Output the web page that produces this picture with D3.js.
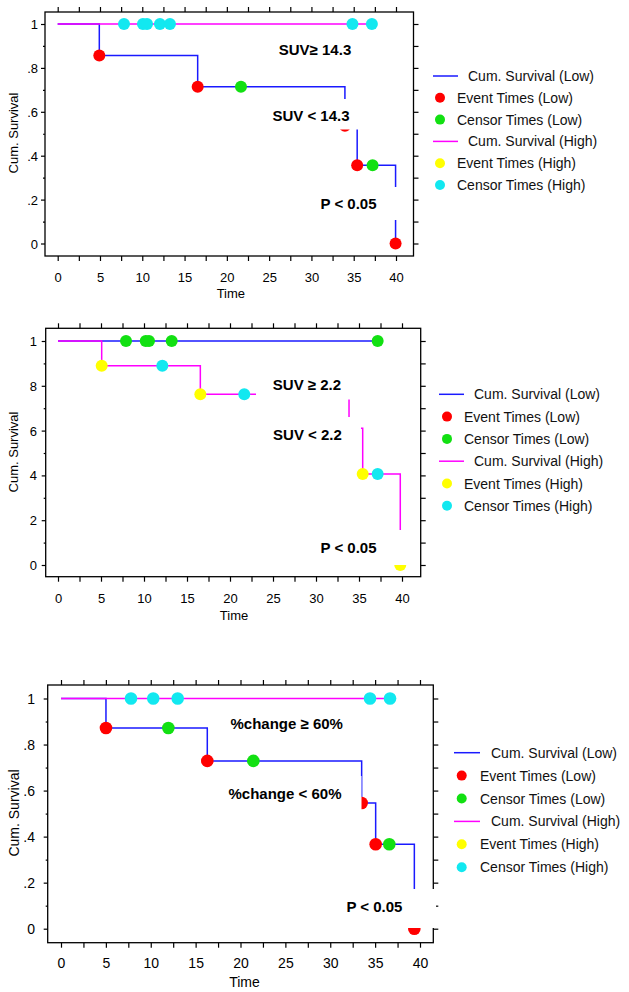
<!DOCTYPE html>
<html>
<head>
<meta charset="utf-8">
<script src="https://cdn.jsdelivr.net/npm/d3@7"></script>
<style>
  html, body { margin: 0; padding: 0; background: #fff; }
  svg { display: block; font-family: "Liberation Sans", Arial, sans-serif; }
</style>
</head>
<body>
<svg id="chart" width="629" height="992"></svg>
<script>
// ---------- data ----------
const timeTicks = [0, 5, 10, 15, 20, 25, 30, 35, 40];
const timeMinorTicks = [0, 2.5, 5, 7.5, 10, 12.5, 15, 17.5, 20, 22.5, 25, 27.5, 30, 32.5, 35, 37.5, 40];
const survTicks = [0, 0.2, 0.4, 0.6, 0.8, 1];
const survMinorTicks = [0, 0.1, 0.2, 0.3, 0.4, 0.5, 0.6, 0.7, 0.8, 0.9, 1];
const survTickLabelsDot = ["0", ".2", ".4", ".6", ".8", "1"];
const survTickLabelsNoDot = ["0", "2", "4", "6", "8", "1"];
const legendLabels = ["Cum. Survival (Low)", "Event Times (Low)", "Censor Times (Low)",
                      "Cum. Survival (High)", "Event Times (High)", "Censor Times (High)"];

// Panel 1: SUV 14.3
const p1LowCurve = [[0, 1], [4.92, 0.857], [16.55, 0.714], [33.96, 0.536], [35.41, 0.357], [39.95, 0]];
const p1LowEvents = [[4.92, 0.857], [16.55, 0.714], [33.96, 0.536], [35.41, 0.357], [39.95, 0]];
const p1LowCensors = [[21.67, 0.714], [37.23, 0.357]];
const p1HighCurve = [[0, 1], [37.15, 1]];
const p1HighEvents = [];
const p1HighCensors = [[7.84, 1], [10.08, 1], [10.56, 1], [12.09, 1], [13.27, 1], [34.85, 1], [37.15, 1]];
const p1Notes = ["SUV\u2265 14.3", "SUV < 14.3", "P < 0.05"];

// Panel 2: SUV 2.2
const p2LowCurve = [[0, 1], [37.17, 1]];
const p2LowEvents = [];
const p2LowCensors = [[7.91, 1], [10.2, 1], [10.58, 1], [13.22, 1], [37.17, 1]];
const p2HighCurve = [[0, 1], [5.08, 0.889], [16.55, 0.762], [33.84, 0.610], [35.43, 0.406], [39.8, 0]];
const p2HighEvents = [[5.08, 0.889], [16.55, 0.762], [33.84, 0.610], [35.43, 0.406], [39.8, 0]];
const p2HighCensors = [[12.13, 0.889], [21.66, 0.762], [37.17, 0.406]];
const p2Notes = ["SUV \u2265 2.2", "SUV < 2.2", "P < 0.05"];

// Panel 3: %change 60%
const p3LowCurve = [[0, 1], [5.01, 0.872], [16.3, 0.729], [33.5, 0.546], [35.06, 0.367], [39.37, 0]];
const p3LowEvents = [[5.01, 0.872], [16.3, 0.729], [33.5, 0.546], [35.06, 0.367], [39.37, 0]];
const p3LowCensors = [[11.96, 0.872], [21.43, 0.729], [36.58, 0.367]];
const p3HighCurve = [[0, 1], [36.66, 1]];
const p3HighEvents = [];
const p3HighCensors = [[7.8, 1], [10.28, 1], [13.0, 1], [34.43, 1], [36.66, 1]];
const p3Notes = ["%change \u2265 60%", "%change < 60%", "P < 0.05"];

// ---------- styles ----------
const COL = { lowLine: "#1a1aff", highLine: "#ff00ff", lowEvent: "#ff0000", lowCensor: "#12e012",
              highEvent: "#ffff00", highCensor: "#12e8f0" };

// ---------- layout (pixel geometry per panel) ----------
const panels = [
  { low: [p1LowCurve, p1LowEvents, p1LowCensors], high: [p1HighCurve, p1HighEvents, p1HighCensors],
    frame: { l: 45, r: 413.5, t: 12, b: 256 }, xr: [57.7, 396], yr: [243.5, 24],
    yLabels: survTickLabelsDot, yLabelRight: 38, yTitle: [13, 133], xLabelY: 277, timeY: 293, fs: 13, r: 6,
    legend: { y0: 76, dy: 21.8, lx0: 433, lx1: 458, ltx: 468, mx: 440, mtx: 457 },
    notes: [
      { t: p1Notes[0], cx: 315, cy: 49, box: null },
      { t: p1Notes[1], cx: 311, cy: 115, box: [266, 99, 358, 129.5] },
      { t: p1Notes[2], cx: 348.5, cy: 203, box: [318, 187, 400, 220] } ] },
  { low: [p2LowCurve, p2LowEvents, p2LowCensors], high: [p2HighCurve, p2HighEvents, p2HighCensors],
    frame: { l: 45.7, r: 420.7, t: 328.3, b: 576.7 }, xr: [58, 402], yr: [565, 341],
    yLabels: survTickLabelsNoDot, yLabelRight: 37, yTitle: [13, 452], xLabelY: 598.5, timeY: 615, fs: 13, r: 6,
    legend: { y0: 394.3, dy: 22.3, lx0: 439, lx1: 464, ltx: 474, mx: 447, mtx: 464 },
    notes: [
      { t: p2Notes[0], cx: 307, cy: 384, box: [256, 370, 355, 399.5] },
      { t: p2Notes[1], cx: 307.5, cy: 434, box: [268, 417, 361, 450] },
      { t: p2Notes[2], cx: 348.5, cy: 547.7, box: [318, 530, 407, 565] } ] },
  { low: [p3LowCurve, p3LowEvents, p3LowCensors], high: [p3HighCurve, p3HighEvents, p3HighCensors],
    frame: { l: 47.7, r: 433.3, t: 685, b: 942.7 }, xr: [61, 420], yr: [928.7, 698.5],
    yLabels: survTickLabelsDot, yLabelRight: 35, yTitle: [13.5, 813], xLabelY: 963.3, timeY: 981.5, fs: 14, r: 6.3,
    legend: { y0: 752.7, dy: 22.9, lx0: 454, lx1: 480, ltx: 491, mx: 461.7, mtx: 480 },
    notes: [
      { t: p3Notes[0], cx: 286.7, cy: 723.3, box: null },
      { t: p3Notes[1], cx: 285, cy: 793.3, box: [225, 776, 361.5, 812] },
      { t: p3Notes[2], cx: 374.4, cy: 906.7, box: [340, 889, 436, 928] } ] }
];

const svg = d3.select("#chart");

panels.forEach(P => {
  const g = svg.append("g");
  const x = d3.scaleLinear().domain([0, 40]).range(P.xr);
  const y = d3.scaleLinear().domain([0, 1]).range(P.yr);
  const F = P.frame;

  // frame
  g.append("rect").attr("x", F.l).attr("y", F.t).attr("width", F.r - F.l).attr("height", F.b - F.t)
    .attr("fill", "none").attr("stroke", "#000").attr("stroke-width", 1.3);

  const styleAxis = sel => { sel.select(".domain").remove(); sel.selectAll("line").attr("stroke", "#000").attr("stroke-width", 1.2); };

  // bottom axis
  const bottom = g.append("g").attr("transform", `translate(0,${F.b})`)
    .call(d3.axisBottom(x).tickValues(timeMinorTicks).tickSize(5)
      .tickFormat(d => timeTicks.includes(d) ? String(d) : ""));
  styleAxis(bottom);
  bottom.selectAll("text").attr("y", P.xLabelY - F.b).attr("dy", "0.35em")
    .attr("font-size", P.fs).attr("fill", "#000").attr("font-family", "Liberation Sans, Arial, sans-serif");

  // top axis
  const top = g.append("g").attr("transform", `translate(0,${F.t})`)
    .call(d3.axisTop(x).tickValues(timeMinorTicks).tickSize(5).tickFormat(""));
  styleAxis(top);

  // left axis: major with labels, minor without
  const left = g.append("g").attr("transform", `translate(${F.l},0)`)
    .call(d3.axisLeft(y).tickValues(survTicks).tickSize(4)
      .tickFormat((d, i) => P.yLabels[i]));
  styleAxis(left);
  left.selectAll("text").attr("x", P.yLabelRight - F.l).attr("dy", "0.35em")
    .attr("font-size", P.fs).attr("fill", "#000").attr("font-family", "Liberation Sans, Arial, sans-serif");
  const leftMinor = g.append("g").attr("transform", `translate(${F.l},0)`)
    .call(d3.axisLeft(y).tickValues(survMinorTicks.filter(v => !survTicks.includes(v))).tickSize(2).tickFormat(""));
  styleAxis(leftMinor);

  // right axis
  const right = g.append("g").attr("transform", `translate(${F.r},0)`)
    .call(d3.axisRight(y).tickValues(survMinorTicks).tickSize(5).tickFormat(""));
  styleAxis(right);

  // axis titles
  g.append("text").attr("transform", `translate(${P.yTitle[0]},${P.yTitle[1]}) rotate(-90)`)
    .attr("text-anchor", "middle").attr("dominant-baseline", "central")
    .attr("font-size", P.fs).attr("fill", "#000").text("Cum. Survival");
  g.append("text").attr("x", (x(0) + x(40)) / 2 + 4).attr("y", P.timeY)
    .attr("text-anchor", "middle").attr("dominant-baseline", "central")
    .attr("font-size", P.fs).attr("fill", "#000").text("Time");

  // curves
  const line = d3.line().x(d => x(d[0])).y(d => y(d[1])).curve(d3.curveStepAfter);
  g.append("path").datum(P.low[0]).attr("d", line).attr("fill", "none")
    .attr("stroke", COL.lowLine).attr("stroke-width", 1.5);
  g.append("path").datum(P.high[0]).attr("d", line).attr("fill", "none")
    .attr("stroke", COL.highLine).attr("stroke-width", 1.5);

  const dots = (data, color) => g.append("g").selectAll("circle").data(data).join("circle")
    .attr("cx", d => x(d[0])).attr("cy", d => y(d[1])).attr("r", P.r).attr("fill", color);
  dots(P.low[1], COL.lowEvent);
  dots(P.low[2], COL.lowCensor);
  dots(P.high[1], COL.highEvent);
  dots(P.high[2], COL.highCensor);

  // annotations with white boxes
  P.notes.forEach(n => {
    if (n.box) {
      g.append("rect").attr("x", n.box[0]).attr("y", n.box[1])
        .attr("width", n.box[2] - n.box[0]).attr("height", n.box[3] - n.box[1]).attr("fill", "#fff");
    }
    g.append("text").attr("x", n.cx).attr("y", n.cy).attr("text-anchor", "middle")
      .attr("dominant-baseline", "central").attr("font-size", 15).attr("font-weight", "bold")
      .attr("fill", "#000").text(n.t);
  });

  // legend
  const L = P.legend;
  const legendItems = [
    { kind: "line", color: COL.lowLine }, { kind: "dot", color: COL.lowEvent }, { kind: "dot", color: COL.lowCensor },
    { kind: "line", color: COL.highLine }, { kind: "dot", color: COL.highEvent }, { kind: "dot", color: COL.highCensor }
  ];
  legendItems.forEach((it, i) => {
    const yy = L.y0 + i * L.dy;
    if (it.kind === "line") {
      g.append("line").attr("x1", L.lx0).attr("x2", L.lx1).attr("y1", yy).attr("y2", yy)
        .attr("stroke", it.color).attr("stroke-width", 1.5);
    } else {
      g.append("circle").attr("cx", L.mx).attr("cy", yy).attr("r", 5).attr("fill", it.color);
    }
    g.append("text").attr("x", it.kind === "line" ? L.ltx : L.mtx).attr("y", yy)
      .attr("dominant-baseline", "central").attr("font-size", 14).attr("fill", "#111")
      .text(legendLabels[i]);
  });
});
</script>
</body>
</html>
